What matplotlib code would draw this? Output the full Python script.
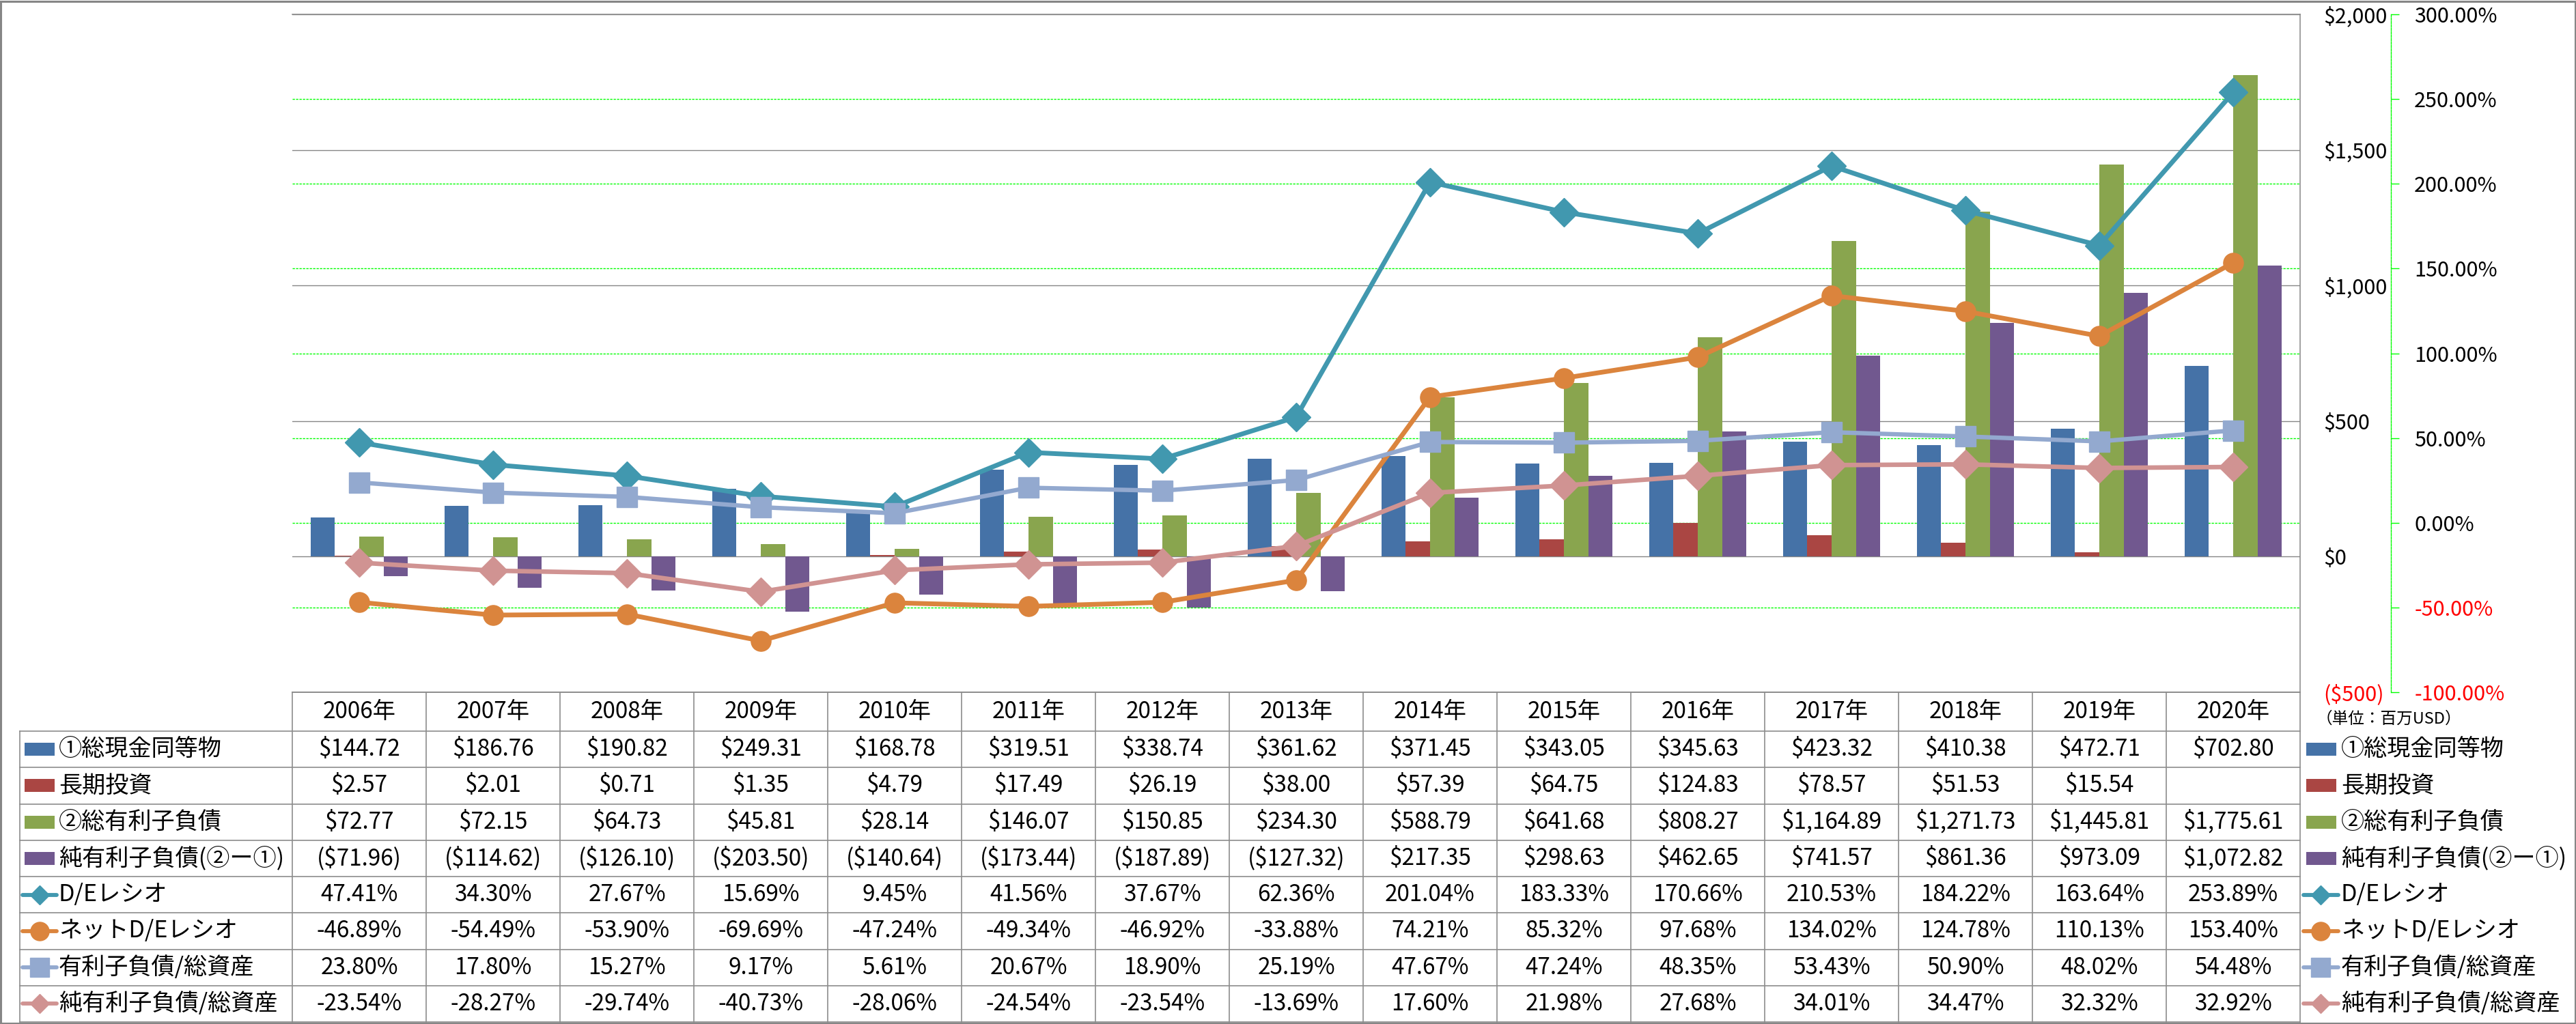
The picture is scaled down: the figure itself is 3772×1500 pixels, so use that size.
import numpy as np
import matplotlib
matplotlib.use("Agg")
import matplotlib.pyplot as plt
import matplotlib.transforms as mtransforms
from matplotlib.patches import Rectangle

plt.rcParams['font.family'] = ['Noto Sans CJK JP', 'DejaVu Sans']

# ---------------- data ----------------
years = ["2006年", "2007年", "2008年", "2009年", "2010年", "2011年", "2012年", "2013年",
         "2014年", "2015年", "2016年", "2017年", "2018年", "2019年", "2020年"]
cash = [144.72, 186.76, 190.82, 249.31, 168.78, 319.51, 338.74, 361.62,
        371.45, 343.05, 345.63, 423.32, 410.38, 472.71, 702.80]
lt_invest = [2.57, 2.01, 0.71, 1.35, 4.79, 17.49, 26.19, 38.00,
             57.39, 64.75, 124.83, 78.57, 51.53, 15.54, np.nan]
total_debt = [72.77, 72.15, 64.73, 45.81, 28.14, 146.07, 150.85, 234.30,
              588.79, 641.68, 808.27, 1164.89, 1271.73, 1445.81, 1775.61]
net_debt = [-71.96, -114.62, -126.10, -203.50, -140.64, -173.44, -187.89, -127.32,
            217.35, 298.63, 462.65, 741.57, 861.36, 973.09, 1072.82]
de_ratio = [47.41, 34.30, 27.67, 15.69, 9.45, 41.56, 37.67, 62.36,
            201.04, 183.33, 170.66, 210.53, 184.22, 163.64, 253.89]
net_de_ratio = [-46.89, -54.49, -53.90, -69.69, -47.24, -49.34, -46.92, -33.88,
                74.21, 85.32, 97.68, 134.02, 124.78, 110.13, 153.40]
debt_assets = [23.80, 17.80, 15.27, 9.17, 5.61, 20.67, 18.90, 25.19,
               47.67, 47.24, 48.35, 53.43, 50.90, 48.02, 54.48]
netdebt_assets = [-23.54, -28.27, -29.74, -40.73, -28.06, -24.54, -23.54, -13.69,
                  17.60, 21.98, 27.68, 34.01, 34.47, 32.32, 32.92]

bar_labels = ["①総現金同等物", "長期投資", "②総有利子負債", "純有利子負債(②ー①)"]
line_labels = ["D/Eレシオ", "ネットD/Eレシオ", "有利子負債/総資産", "純有利子負債/総資産"]
unit_label = "（単位：百万USD）"

usd_ticks = [-500, 0, 500, 1000, 1500, 2000]
pct_ticks = [-100, -50, 0, 50, 100, 150, 200, 250, 300]

# ---------------- styles ----------------
bar_colors = ["#4572A7", "#AA4643", "#89A54E", "#71588F"]
line_colors = ["#4198AF", "#DB843D", "#93A9CF", "#D09392"]
line_markers = ["D", "o", "s", "D"]
line_ms = [21, 21, 22, 21]
line_lw = [5.0, 5.0, 4.6, 4.8]
GRAY = "#868686"
GREEN = "#00FF00"
DASH = (0, (2.4, 1.2))

W, H = 3773, 1500
fig = plt.figure(figsize=(W / 100, H / 100), dpi=100)

PL, PR, PT, PB = 428, 3368, 21, 1014
ax = fig.add_axes([PL / W, 1 - PB / H, (PR - PL) / W, (PB - PT) / H])

def fmt_usd(v):
    if v is None or (isinstance(v, float) and np.isnan(v)):
        return ""
    return f"${v:,.2f}" if v >= 0 else f"(${-v:,.2f})"

def fmt_usd_tick(v):
    return f"${v:,.0f}" if v >= 0 else f"(${-v:,.0f})"

# bars
n = len(years)
x = np.arange(n)
bw = 0.1818
for i, (vals, col) in enumerate(zip([cash, lt_invest, total_debt, net_debt], bar_colors)):
    ax.bar(x + (i - 1.5) * bw, np.array(vals, dtype=float), bw, color=col, zorder=2,
           linewidth=0)

# secondary axis
ax2 = ax.twinx()

ax.set_xlim(-0.5, n - 0.5)
ax.set_ylim(-500, 2000)
ax.set_xticks([])
ax.set_yticks(usd_ticks)
ax.set_yticklabels([fmt_usd_tick(v) for v in usd_ticks])
ax.yaxis.tick_right()
ax.tick_params(axis="y", which="both", left=False, labelleft=False, right=True,
               labelright=True, length=0, pad=24.5, labelsize=22)
ax.grid(axis="y", color=GRAY, lw=1.0, zorder=0.5)
ax.set_axisbelow(True)
ax.spines["left"].set_visible(False)
for s in ["top", "right", "bottom"]:
    ax.spines[s].set_color(GRAY)
    ax.spines[s].set_linewidth(1.1)

ax2.set_ylim(-100, 300)
ax2.set_yticks(pct_ticks)
ax2.set_yticklabels([f"{v:.2f}%" for v in pct_ticks])
for s in ["top", "left", "bottom"]:
    ax2.spines[s].set_visible(False)
ax2.spines["right"].set_position(("outward", 133 * 0.72))
ax2.spines["right"].set_color(GREEN)
ax2.spines["right"].set_linestyle(DASH)
ax2.spines["right"].set_linewidth(1.0)
ax2.tick_params(axis="y", direction="out", length=8.6, width=1.0, color=GREEN,
                pad=16, labelsize=22)

# negative tick labels in red
for axis_obj, ticks in ((ax.yaxis, usd_ticks), (ax2.yaxis, pct_ticks)):
    for v, tk in zip(ticks, axis_obj.get_major_ticks()):
        c = "red" if v < 0 else "black"
        tk.label1.set_color(c)
        tk.label2.set_color(c)

# secondary gridlines drawn behind bars
blend = mtransforms.blended_transform_factory(ax.transAxes, ax2.transData)
for v in pct_ticks[1:-1]:
    ax.plot([0, 1], [v, v], transform=blend, color=GREEN, lw=1.0, ls=DASH, zorder=0.8)
ax.set_xlim(-0.5, n - 0.5)
ax.set_ylim(-500, 2000)

# lines
for vals, col, mk, ms, lw in zip([de_ratio, net_de_ratio, debt_assets, netdebt_assets],
                                 line_colors, line_markers, line_ms, line_lw):
    ax2.plot(x, vals, color=col, lw=lw, marker=mk, ms=ms, mec=col, mfc=col, zorder=3,
             solid_joinstyle="round")
ax2.set_xlim(-0.5, n - 0.5)

# ---------------- table overlay ----------------
axt = fig.add_axes([0, 0, 1, 1])
axt.set_xlim(0, W)
axt.set_ylim(H, 0)
axt.axis("off")

TL = 29
colw = (PR - PL) / n
HB = 1071
rh = (1497 - HB) / 8
lc = "#8C8C8C"
lkw = dict(color=lc, lw=1.2)
axt.plot([PL, PR], [PB, PB], **lkw)
for k in range(9):
    yy = HB + k * rh
    axt.plot([TL, PR], [yy, yy], **lkw)
axt.plot([TL, TL], [HB, HB + 8 * rh], **lkw)
for i in range(n + 1):
    xx = PL + i * colw
    axt.plot([xx, xx], [PB, HB + 8 * rh], **lkw)

FS = 24
FSL = 24.6
for i, yl in enumerate(years):
    axt.text(PL + (i + 0.5) * colw, (PB + HB) / 2, yl, ha="center", va="center", fontsize=FS)

rows_vals = [
    [fmt_usd(v) for v in cash],
    [fmt_usd(v) for v in lt_invest],
    [fmt_usd(v) for v in total_debt],
    [fmt_usd(v) for v in net_debt],
    [f"{v:.2f}%" for v in de_ratio],
    [f"{v:.2f}%" for v in net_de_ratio],
    [f"{v:.2f}%" for v in debt_assets],
    [f"{v:.2f}%" for v in netdebt_assets],
]
all_labels = bar_labels + line_labels

def draw_key(k, xk0, xk1, yc):
    if k < 4:
        axt.add_patch(Rectangle((xk0, yc - 9.5), xk1 - xk0, 19, color=bar_colors[k], lw=0))
    else:
        j = k - 4
        xm = (xk0 + xk1) / 2
        axt.plot([xk0, xk1], [yc, yc], color=line_colors[j], lw=4.2, solid_capstyle="round")
        ms = {"D": 14, "o": 19.5, "s": 19.5}[line_markers[j]]
        axt.plot([xm], [yc], marker=line_markers[j], ms=ms, color=line_colors[j],
                 mec=line_colors[j])

for r in range(8):
    yc = HB + (r + 0.5) * rh
    for i in range(n):
        axt.text(PL + (i + 0.5) * colw, yc, rows_vals[r][i], ha="center", va="center",
                 fontsize=FS)
    if r < 4:
        draw_key(r, 36, 80, yc)
        draw_key(r, 3377, 3421, yc)
    else:
        draw_key(r, 33, 83, yc)
        draw_key(r, 3373, 3424, yc)
    axt.text(86, yc, all_labels[r], ha="left", va="center", fontsize=FSL)
    axt.text(3428, yc, all_labels[r], ha="left", va="center", fontsize=FSL)

axt.text(3392, 1053, unit_label, ha="left", va="center", fontsize=17)

# outer border
axt.add_patch(Rectangle((1.5, 1.5), W - 3, H - 3, fill=False, ec=GRAY, lw=2.2))

fig.savefig("out.png", dpi=100)
